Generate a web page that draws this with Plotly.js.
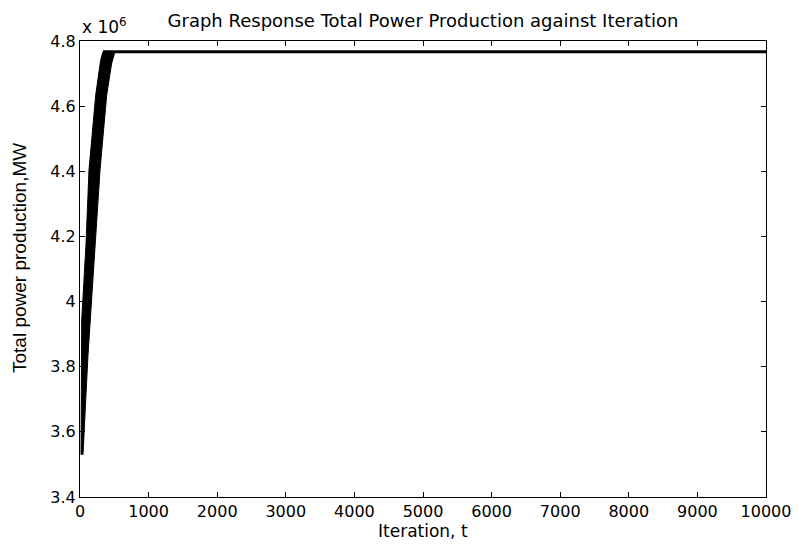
<!DOCTYPE html>
<html>
<head>
<meta charset="utf-8">
<script src="https://cdn.plot.ly/plotly-3.0.1.min.js"></script>
<style>html,body{margin:0;padding:0;background:#fff;}</style>
</head>
<body>
<div id="chart" style="width:798px;height:545px;"></div>
<script>
// Oscillating band during the early iterations (values in units of 10^6 MW)
var bandUpperIter  = [15, 18, 25, 87, 131, 229, 300, 335];
var bandUpperPower = [3.53, 3.88, 3.944, 4.174, 4.404, 4.634, 4.74, 4.767];
var bandLowerIter  = [44, 87, 117, 146, 219, 292, 389, 460, 510];
var bandLowerPower = [3.53, 3.714, 3.837, 3.944, 4.174, 4.404, 4.634, 4.73, 4.767];
// Converged plateau
var flatIter  = [335, 10000];
var flatPower = [4.767, 4.767];

var yTickVals   = [3.4, 3.6, 3.8, 4.0, 4.2, 4.4, 4.6, 4.8];
var yTickLabels = ['3.4', '3.6', '3.8', '4', '4.2', '4.4', '4.6', '4.8'];
var xTickVals   = [0, 1000, 2000, 3000, 4000, 5000, 6000, 7000, 8000, 9000, 10000];
var xTickLabels = ['0', '1000', '2000', '3000', '4000', '5000', '6000', '7000', '8000', '9000', '10000'];

// polygon: upper (left) edge going up, lower (right) edge coming back down
var polyX = bandUpperIter.concat(bandLowerIter.slice().reverse());
var polyY = bandUpperPower.concat(bandLowerPower.slice().reverse());

var F = 'DejaVu Sans, Arial, sans-serif';
var A = 'Liberation Sans, Arial, sans-serif';

var traces = [
  {x: polyX, y: polyY, mode: 'lines', fill: 'toself', fillcolor: '#000',
   line: {color: '#000', width: 1}, hoverinfo: 'skip', showlegend: false},
  {x: flatIter, y: flatPower, mode: 'lines',
   line: {color: '#000', width: 3}, showlegend: false}
];

var layout = {
  width: 798, height: 545,
  margin: {l: 80, r: 32, t: 41, b: 48, pad: 0},
  paper_bgcolor: '#fff', plot_bgcolor: '#fff',
  font: {family: F, size: 16, color: '#000'},
  showlegend: false,
  title: {text: 'Graph Response Total Power Production against Iteration',
          font: {family: F, size: 18, color: '#000'},
          xref: 'paper', x: 0.5, xanchor: 'center', y: 1 - 21/545, yanchor: 'middle'},
  xaxis: {range: [0, 10000], tickvals: xTickVals, ticktext: xTickLabels,
          ticks: 'inside', ticklen: 5,
          tickcolor: '#000', showline: true, linecolor: '#000', linewidth: 1,
          mirror: 'ticks', showgrid: false, zeroline: false, automargin: false,
          tickfont: {family: F, size: 16, color: '#000'}},
  yaxis: {range: [3.4, 4.8], tickvals: yTickVals, ticktext: yTickLabels,
          ticks: 'inside', ticklen: 5, tickcolor: '#000',
          showline: true, linecolor: '#000', linewidth: 1,
          mirror: 'ticks', showgrid: false, zeroline: false, automargin: false,
          tickfont: {family: F, size: 16, color: '#000'}},
  annotations: [
    {text: 'x 10<sup>6</sup>', xref: 'paper', yref: 'paper', x: 0, y: 1 + 15/456,
     xanchor: 'left', yanchor: 'middle', showarrow: false,
     font: {family: F, size: 17, color: '#000'}},
    {text: 'Iteration, t', xref: 'paper', yref: 'paper', x: 0.5, y: (497 - 531) / 456,
     xanchor: 'center', yanchor: 'middle', showarrow: false,
     font: {family: F, size: 17, color: '#000'}},
    {text: 'Total power production,MW', xref: 'paper', yref: 'paper',
     x: (19 - 80) / 686, y: (497 - 258) / 456, textangle: -90,
     xanchor: 'center', yanchor: 'middle', showarrow: false,
     font: {family: A, size: 19, color: '#000'}}
  ]
};

Plotly.newPlot('chart', traces, layout, {staticPlot: true, displayModeBar: false});
</script>
</body>
</html>
